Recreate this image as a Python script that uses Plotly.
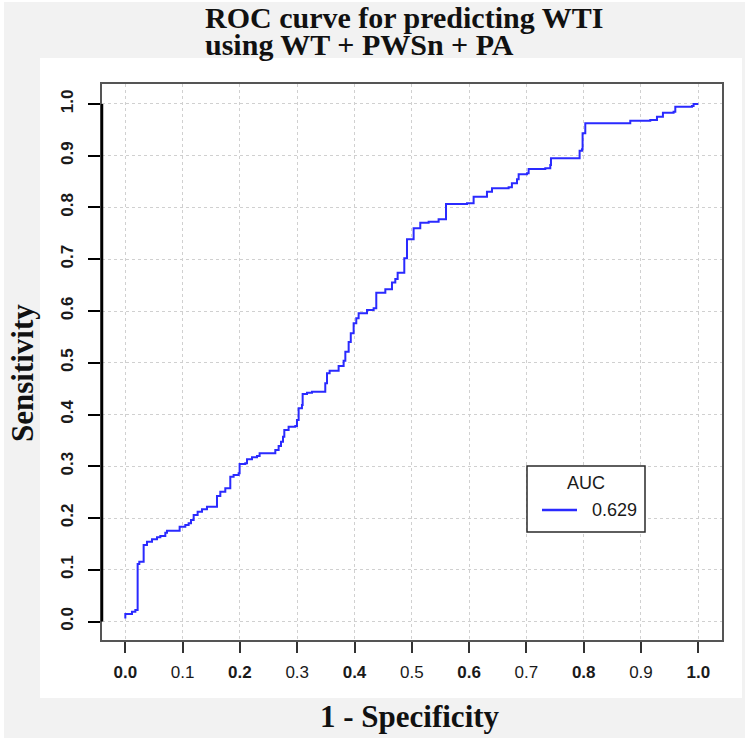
import plotly.graph_objects as go

# ---- data ----
fpr = [0.0, 0.0, 0.0087, 0.0116, 0.0175, 0.0215, 0.0215, 0.0244, 0.032, 0.032,
       0.0378, 0.0466, 0.0553, 0.0611, 0.0698, 0.0727, 0.093, 0.0948, 0.1047, 0.1105,
       0.1146, 0.1193, 0.1262, 0.1338, 0.1425, 0.16, 0.16, 0.1658, 0.1745, 0.1832,
       0.1832, 0.189, 0.1978, 0.1995, 0.2094, 0.2124, 0.2211, 0.2298, 0.2344, 0.256,
       0.2618, 0.2676, 0.2717, 0.2752, 0.2775, 0.285, 0.2967, 0.2996, 0.3025, 0.3083,
       0.3095, 0.3171, 0.3258, 0.3461, 0.349, 0.352, 0.3566, 0.3694, 0.3723, 0.381,
       0.384, 0.3898, 0.3935, 0.3985, 0.4031, 0.4072, 0.4218, 0.4334, 0.438, 0.4538,
       0.4654, 0.4712, 0.4753, 0.4869, 0.4916, 0.5032, 0.5148, 0.5294, 0.5468, 0.5597,
       0.5963, 0.6079, 0.6312, 0.64, 0.669, 0.6747, 0.6836, 0.6865, 0.701, 0.7039,
       0.733, 0.7417, 0.7429, 0.7912, 0.7929, 0.797, 0.7981, 0.8028, 0.8784, 0.8813,
       0.9162, 0.9279, 0.9383, 0.9569, 0.9599, 0.989, 0.9918, 1.0]
tpr = [0.006, 0.0145, 0.0145, 0.019, 0.0222, 0.0267, 0.1111, 0.1156, 0.1188, 0.1478,
       0.1543, 0.1588, 0.1627, 0.1652, 0.1716, 0.1755, 0.1755, 0.1833, 0.1865, 0.1897,
       0.1961, 0.2058, 0.2122, 0.2168, 0.2219, 0.2219, 0.2425, 0.2508, 0.2574, 0.2605,
       0.2798, 0.2831, 0.2864, 0.3043, 0.3057, 0.3134, 0.3173, 0.3198, 0.325, 0.325,
       0.3314, 0.3391, 0.3475, 0.3571, 0.37, 0.3765, 0.3778, 0.3894, 0.412, 0.4184,
       0.4396, 0.4422, 0.4441, 0.4441, 0.4603, 0.4796, 0.4847, 0.4847, 0.4937, 0.504,
       0.5214, 0.54, 0.5569, 0.5762, 0.5859, 0.5956, 0.602, 0.6052, 0.6354, 0.6419,
       0.655, 0.662, 0.674, 0.7018, 0.7386, 0.7598, 0.7707, 0.7726, 0.7772, 0.8068,
       0.8081, 0.8209, 0.8306, 0.837, 0.839, 0.8467, 0.8545, 0.8641, 0.866, 0.8744,
       0.8757, 0.8821, 0.895, 0.895, 0.9098, 0.9124, 0.9433, 0.9627, 0.9627, 0.9678,
       0.969, 0.9755, 0.9832, 0.9852, 0.9948, 0.9961, 1.0, 1.0]

tick_vals = [0.0, 0.1, 0.2, 0.3, 0.4, 0.5, 0.6, 0.7, 0.8, 0.9, 1.0]
x_tick_labels = ["<b>0.0</b>", "0.1", "<b>0.2</b>", "0.3", "<b>0.4</b>", "0.5",
                 "<b>0.6</b>", "0.7", "<b>0.8</b>", "0.9", "<b>1.0</b>"]
y_tick_labels = ["<b>0.0</b>", "<b>0.1</b>", "<b>0.2</b>", "<b>0.3</b>", "<b>0.4</b>", "<b>0.5</b>",
                 "<b>0.6</b>", "<b>0.7</b>", "<b>0.8</b>", "<b>0.9</b>", "<b>1.0</b>"]
auc_label = "0.629"
legend_title = "AUC"
title_line1 = "ROC curve for predicting WTI"
title_line2 = "using WT + PWSn + PA"
x_title = "1 - Specificity"
y_title = "Sensitivity"

LINE_COLOR = "#2a2aff"

# ---- layout geometry (window pixels; body margin removed below) ----
W, H = 750, 744
SL, SR, ST, SB = 102, 722, 84, 640          # plot box
ML, MT, MR, MB = SL, ST, W - SR, H - SB
PW, PH = W - ML - MR, H - MT - MB


def px(xs):
    return (xs - ML) / PW


def py(ys):
    return (H - MB - ys) / PH


serif = "Liberation Serif, Times New Roman, serif"
sans = "Liberation Sans, Arial, sans-serif"

fig = go.Figure()
fig.add_trace(go.Scatter(
    x=fpr, y=tpr, mode="lines", line=dict(color=LINE_COLOR, width=2, shape="hv"),
    name=auc_label, showlegend=False,
))

fig.update_layout(
    width=W, height=H,
    margin=dict(l=ML, r=MR, t=MT, b=MB, pad=0),
    paper_bgcolor="white", plot_bgcolor="white",
    showlegend=False,
    shapes=[
        # outer grey frame and inner white panel
        dict(type="rect", xref="paper", yref="paper", x0=px(4), x1=px(745), y0=py(738), y1=py(2),
             fillcolor="#f2f2f2", line=dict(width=0), layer="below"),
        dict(type="rect", xref="paper", yref="paper", x0=px(40), x1=px(742), y0=py(698), y1=py(58),
             fillcolor="white", line=dict(width=0), layer="below"),
        # R-style black axis segment from first to last tick
        dict(type="line", xref="x domain", yref="y", x0=0, x1=0, y0=0, y1=1,
             line=dict(color="black", width=2.5), layer="above"),
        # legend box
        dict(type="rect", xref="paper", yref="paper", x0=px(527), x1=px(645), y0=py(532), y1=py(466),
             fillcolor="white", line=dict(color="#2a2a2a", width=1.5), layer="above"),
        dict(type="line", xref="paper", yref="paper", x0=px(542), x1=px(577), y0=py(510), y1=py(510),
             line=dict(color=LINE_COLOR, width=2.5), layer="above"),
    ],
    annotations=[
        dict(text="<b>" + title_line1 + "</b>", xref="paper", yref="paper", x=px(203), y=py(17),
             xanchor="left", yanchor="middle", showarrow=False,
             font=dict(family=serif, size=30, color="#111")),
        dict(text="<b>" + title_line2 + "</b>", xref="paper", yref="paper", x=px(203), y=py(44),
             xanchor="left", yanchor="middle", showarrow=False,
             font=dict(family=serif, size=30, color="#111")),
        dict(text="<b>" + x_title + "</b>", xref="paper", yref="paper", x=px(410), y=py(716),
             xanchor="center", yanchor="middle", showarrow=False,
             font=dict(family=serif, size=31, color="#111")),
        dict(text="<b>" + y_title + "</b>", xref="paper", yref="paper", x=px(22), y=py(373),
             xanchor="center", yanchor="middle", showarrow=False, textangle=-90,
             font=dict(family=serif, size=31, color="#111")),
        # legend texts
        dict(text=legend_title, xref="paper", yref="paper", x=px(586), y=py(483),
             xanchor="center", yanchor="middle", showarrow=False,
             font=dict(family=sans, size=18, color="#1a1a1a")),
        dict(text=auc_label, xref="paper", yref="paper", x=px(590), y=py(510),
             xanchor="left", yanchor="middle", showarrow=False,
             font=dict(family=sans, size=18, color="#1a1a1a")),
    ],
)

axis_common = dict(
    tickvals=tick_vals, ticks="outside", showline=True, linecolor="#555", linewidth=1.5,
    mirror=True, showgrid=True, gridcolor="#d0d0d0", griddash="dot", gridwidth=1,
    zeroline=False, tickfont=dict(family=sans, size=17, color="#1a1a1a"),
)
fig.update_xaxes(**axis_common, range=[-0.0407, 1.0414], ticktext=x_tick_labels,
                 ticklen=11, tickwidth=1.5, tickcolor="#333", ticklabelstandoff=5)
fig.update_yaxes(**axis_common, range=[-0.0357, 1.0386], ticktext=y_tick_labels,
                 ticklen=12, tickwidth=2, tickcolor="black", tickangle=-90, ticklabelstandoff=8)

fig.write_html("out.html", config={"displayModeBar": False},
               post_script="document.body.style.margin='0';document.body.style.padding='0';")
